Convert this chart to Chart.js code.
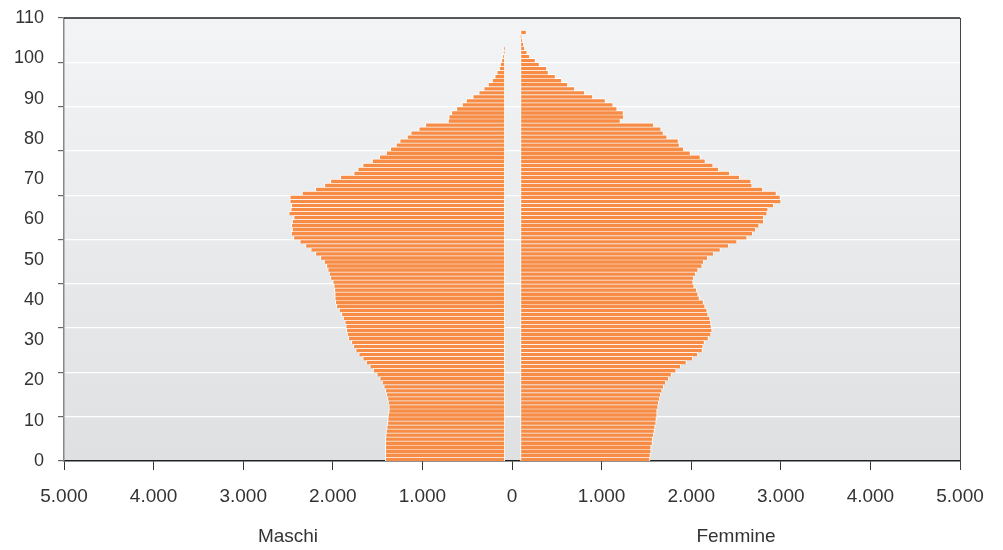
<!DOCTYPE html>
<html>
<head>
<meta charset="utf-8">
<script src="https://cdn.jsdelivr.net/npm/chart.js@4"></script>
<style>
  html, body { margin: 0; padding: 0; background: #fff; }
  #wrap { width: 1003px; height: 550px; position: relative; }
</style>
</head>
<body>
<div id="wrap"><canvas id="pyr"></canvas></div>
<script>
// Piramide per età: Maschi (sinistra) e Femmine (destra)

// ages 0..109, one bar row each
const eta = Array.from({ length: 110 }, function (_, i) { return i; });

const maschi = [
  1333, 1333, 1333, 1333, 1333, 1333, 1329, 1325, 1318, 1310,
  1307, 1303, 1295, 1295, 1303, 1310, 1321, 1333, 1351, 1370,
  1396, 1429, 1470, 1507, 1548, 1586, 1630, 1664, 1690, 1712,
  1746, 1760, 1768, 1775, 1786, 1805, 1824, 1850, 1879, 1891,
  1898, 1898, 1902, 1909, 1920, 1946, 1961, 1976, 1991, 2017,
  2058, 2114, 2166, 2225, 2289, 2359, 2385, 2374, 2382, 2374,
  2356, 2411, 2389, 2382, 2400, 2400, 2263, 2114, 2013, 1946,
  1835, 1686, 1641, 1586, 1481, 1400, 1325, 1277, 1214, 1173,
  1091, 1050, 961, 886, 633, 626, 596, 540, 477, 432,
  358, 291, 235, 187, 142, 112, 89, 63, 52, 37,
  26, 15, 7, 0, 0, 0, 0, 0, 0, 0
];

const femmine = [
  1445, 1450, 1458, 1458, 1473, 1476, 1488, 1495, 1502, 1514,
  1517, 1525, 1525, 1536, 1543, 1555, 1566, 1581, 1599, 1622,
  1655, 1685, 1737, 1789, 1852, 1923, 1979, 2031, 2038, 2053,
  2098, 2127, 2139, 2131, 2124, 2116, 2094, 2083, 2060, 2042,
  1997, 1982, 1967, 1938, 1926, 1934, 1956, 1982, 2027, 2045,
  2090, 2157, 2231, 2324, 2417, 2529, 2592, 2626, 2663, 2715,
  2715, 2752, 2763, 2827, 2908, 2901, 2856, 2704, 2585, 2574,
  2447, 2336, 2213, 2150, 2064, 2008, 1897, 1822, 1774, 1763,
  1636, 1595, 1569, 1488, 1115, 1153, 1149, 1078, 1034, 948,
  807, 717, 606, 528, 461, 390, 312, 293, 212, 167,
  104, 74, 48, 37, 26, 11, 67, 0, 0, 0
];

const yLabels = [0, 10, 20, 30, 40, 50, 60, 70, 80, 90, 100, 110];
const gridStep = 11;          // horizontal grid every 11 rows
const xTicks = [-5000, -4000, -3000, -2000, -1000, 0, 1000, 2000, 3000, 4000, 5000];
const gapM = 80, gapF = 95;   // empty band around the centre line
const sideLabels = ['Maschi', 'Femmine'];

const FONT = '"Liberation Sans", Arial, Helvetica, sans-serif';
const ORANGE = '#f68c45';

function fmt(v) {
  const s = String(Math.abs(v));
  return s.replace(/\B(?=(\d{3})+(?!\d))/g, '.');
}

// background gradient, frame lines and side captions
const framePlugin = {
  id: 'frame',
  beforeDraw: function (chart) {
    const a = chart.chartArea, ctx = chart.ctx;
    const g = ctx.createLinearGradient(0, a.top, 0, a.bottom);
    g.addColorStop(0, '#f3f4f5');
    g.addColorStop(1, '#dfe0e2');
    ctx.save();
    ctx.fillStyle = g;
    ctx.fillRect(a.left, a.top, a.right - a.left, a.bottom - a.top);
    ctx.restore();
  },
  afterDraw: function (chart) {
    const a = chart.chartArea, ctx = chart.ctx, x = chart.scales.x;
    ctx.save();
    ctx.strokeStyle = '#222';
    ctx.lineWidth = 1.5;
    ctx.beginPath();
    ctx.moveTo(a.left, a.top);
    ctx.lineTo(a.right, a.top);
    ctx.stroke();
    ctx.strokeStyle = '#444';
    ctx.lineWidth = 1;
    ctx.beginPath();
    ctx.moveTo(a.right + 0.5, a.top);
    ctx.lineTo(a.right + 0.5, a.bottom + 9);
    ctx.stroke();
    ctx.fillStyle = '#333';
    ctx.font = '19px ' + FONT;
    ctx.textAlign = 'center';
    ctx.textBaseline = 'middle';
    ctx.fillText(sideLabels[0], x.getPixelForValue(-2500), 537);
    ctx.fillText(sideLabels[1], x.getPixelForValue(2500), 537);
    ctx.restore();
  }
};

new Chart(document.getElementById('pyr'), {
  type: 'bar',
  data: {
    datasets: [
      {
        label: sideLabels[0],
        data: eta.map(function (a, i) { return { x: [-(gapM + maschi[i]), -gapM], y: a + 0.5 }; }),
        backgroundColor: ORANGE,
        borderColor: '#ffffff',
        borderWidth: { top: 1, bottom: 0, left: 1, right: 1 },
        borderSkipped: false
      },
      {
        label: sideLabels[1],
        data: eta.map(function (a, i) { return { x: [gapF, gapF + femmine[i]], y: a + 0.5 }; }),
        backgroundColor: ORANGE,
        borderColor: '#ffffff',
        borderWidth: { top: 1, bottom: 0, left: 1, right: 1 },
        borderSkipped: false
      }
    ]
  },
  options: {
    indexAxis: 'y',
    responsive: true,
    maintainAspectRatio: false,
    animation: false,
    datasets: { bar: { grouped: false, barPercentage: 1, categoryPercentage: 1 } },
    layout: { padding: { left: 0, right: 43, top: 18, bottom: 0 } },
    plugins: { legend: { display: false }, tooltip: { enabled: false } },
    scales: {
      x: {
        type: 'linear',
        min: -5000, max: 5000,
        afterBuildTicks: function (scale) {
          scale.ticks = xTicks.map(function (v) { return { value: v }; });
        },
        afterFit: function (scale) { scale.height = 89; },
        ticks: {
          autoSkip: false, maxRotation: 0, padding: 15,
          color: '#333', font: { family: FONT, size: 19 },
          callback: function (v) { return fmt(v); }
        },
        grid: { drawOnChartArea: false, drawTicks: true, tickLength: 9, tickColor: '#333' },
        border: { color: '#222', width: 1.5 }
      },
      y: {
        type: 'linear',
        min: 0, max: 110,
        offset: false,
        afterBuildTicks: function (scale) {
          const t = [];
          for (let v = 0; v <= 110; v++) {
            const isLabel = yLabels.indexOf(v) >= 0;
            const isGrid = v % gridStep === 0;
            if (isLabel || isGrid) t.push({ value: v, isLabel: isLabel, isGrid: isGrid });
          }
          scale.ticks = t;
        },
        afterFit: function (scale) {
          scale.width = 64;
          scale.paddingTop = 0;
          scale.paddingBottom = 0;
        },
        ticks: {
          autoSkip: false, padding: 14,
          color: '#333', font: { family: FONT, size: 18 },
          callback: function (v, i, ticks) { return ticks[i].isLabel ? String(v) : ''; }
        },
        grid: {
          offset: false,
          lineWidth: 1.2,
          tickLength: 6,
          color: function (c) {
            const t = c.tick;
            return t && t.isGrid && t.value > 0 && t.value < 110 ? '#ffffff' : 'rgba(0,0,0,0)';
          },
          tickColor: function (c) {
            return c.tick && c.tick.isGrid ? '#666' : 'rgba(0,0,0,0)';
          }
        },
        border: { color: '#888', width: 1.5 }
      }
    }
  },
  plugins: [framePlugin]
});
</script>
</body>
</html>
